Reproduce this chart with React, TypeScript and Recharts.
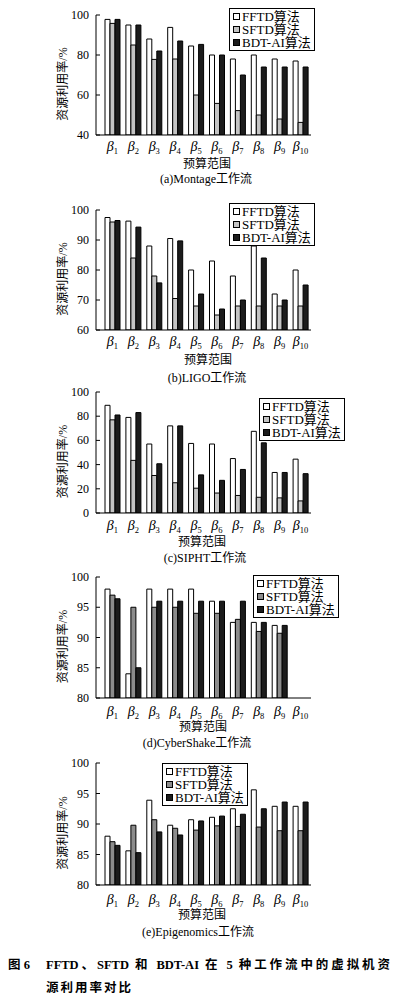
import React from "react";
import { BarChart, Bar, XAxis, YAxis, Legend } from "recharts";

const SERIF = "'Liberation Serif', 'Times New Roman', 'Noto Sans CJK SC', serif";

const budgets = ["β1", "β2", "β3", "β4", "β5", "β6", "β7", "β8", "β9", "β10"];
const seriesNames = ["FFTD算法", "SFTD算法", "BDT-AI算法"];

// (a) Montage
const montageFftd = [97.8, 95, 88, 93.8, 84.5, 80, 78, 80, 78, 77];
const montageSftd = [95.8, 85, 77.8, 78, 60, 55.8, 52.2, 50, 48, 46.3];
const montageBdt = [97.8, 95, 82, 87, 85.3, 80, 70, 74, 74, 74];
const montageTicks = [40, 60, 80, 100];

// (b) LIGO
const ligoFftd = [97.5, 96.3, 88, 90.5, 80, 83, 78, 88, 72, 80];
const ligoSftd = [96, 84, 78, 70.5, 68, 65, 68, 68, 68, 68];
const ligoBdt = [96.5, 94.3, 75.7, 89.7, 72, 67, 70, 84, 70, 75];
const ligoTicks = [60, 70, 80, 90, 100];

// (c) SIPHT
const siphtFftd = [89, 79, 57, 72, 57.5, 57, 45, 67.5, 33.5, 44.5];
const siphtSftd = [77, 43.5, 31, 25, 20.5, 16.5, 14.5, 13, 12.5, 10];
const siphtBdt = [81, 83, 40.7, 72, 31.5, 27, 36, 58, 33.5, 32.5];
const siphtTicks = [0, 20, 40, 60, 80, 100];

// (d) CyberShake, no bars for β10
const cyberFftd = [98, 84, 98, 98, 98, 96, 92.5, 92.5, 92, null];
const cyberSftd = [97, 95, 95, 95, 94, 94, 93, 91, 90.7, null];
const cyberBdt = [96.4, 85, 96, 96, 96, 96, 96, 92.5, 92, null];
const cyberTicks = [80, 85, 90, 95, 100];

// (e) Epigenomics
const epiFftd = [88, 85.6, 93.9, 89.8, 90.7, 91.1, 92.5, 95.6, 92.9, 92.9];
const epiSftd = [87.1, 89.8, 90.7, 89.3, 89, 89.7, 89.6, 89.5, 88.9, 88.9];
const epiBdt = [86.5, 85.3, 88.7, 88.2, 90.5, 91.3, 91.6, 92.5, 93.6, 93.6];
const epiTicks = [80, 85, 90, 95, 100];

const LIGHT = "#c4c4c4";
const MID = "#8c8c8c";
const DARK = "#1c1c1c";

const panels = [
  {
    caption: "(a)Montage工作流", fftd: montageFftd, sftd: montageSftd, bdt: montageBdt,
    ticks: montageTicks, gray: LIGHT, plotTop: 15, plotBottom: 135,
    betaDy: 11, labelDy: 28, capDy: 44, labelX: 207, capX: 206, legX: 229, legY: 8,
  },
  {
    caption: "(b)LIGO工作流", fftd: ligoFftd, sftd: ligoSftd, bdt: ligoBdt,
    ticks: ligoTicks, gray: LIGHT, plotTop: 210, plotBottom: 330,
    betaDy: 11, labelDy: 29, capDy: 48, labelX: 208, capX: 207, legX: 229, legY: 203,
  },
  {
    caption: "(c)SIPHT工作流", fftd: siphtFftd, sftd: siphtSftd, bdt: siphtBdt,
    ticks: siphtTicks, gray: LIGHT, plotTop: 392, plotBottom: 513,
    betaDy: 12, labelDy: 28.5, capDy: 45, labelX: 202, capX: 205, legX: 259, legY: 398,
  },
  {
    caption: "(d)CyberShake工作流", fftd: cyberFftd, sftd: cyberSftd, bdt: cyberBdt,
    ticks: cyberTicks, gray: MID, plotTop: 577, plotBottom: 698,
    betaDy: 13, labelDy: 28, capDy: 45, labelX: 203, capX: 197, legX: 253, legY: 575,
  },
  {
    caption: "(e)Epigenomics工作流", fftd: epiFftd, sftd: epiSftd, bdt: epiBdt,
    ticks: epiTicks, gray: MID, plotTop: 763, plotBottom: 885,
    betaDy: 14, labelDy: 29, capDy: 47, labelX: 202, capX: 198, legX: 162, legY: 763,
  },
];

const XTick = (props: any) => {
  const { x, y, payload, off } = props;
  const idx = String(payload.value).slice(1);
  return (
    <text x={x} y={y + off + 5} textAnchor="middle" fontFamily={SERIF} fontSize={14} fontStyle="italic" fill="#000">
      β
      <tspan fontSize={8.5} fontStyle="normal" dy={2.5}>{idx}</tspan>
    </text>
  );
};

const YTick = (props: any) => {
  const { x, y, payload } = props;
  return (
    <g>
      <line x1={x + 7} x2={x + 11} y1={y} y2={y} stroke="#000" />
      <text x={x} y={y + 4} textAnchor="end" fontFamily={SERIF} fontSize={12} fill="#000">
        {payload.value}
      </text>
    </g>
  );
};

const renderLegend = (props: any) => {
  const items = [...(props.payload || [])].sort(
    (a: any, b: any) => seriesNames.indexOf(a.value) - seriesNames.indexOf(b.value)
  );
  return (
    <div
      style={{
        border: "1px solid #000",
        background: "#fff",
        padding: "1px 3px 1px 3px",
        fontFamily: SERIF,
        fontSize: 13,
        lineHeight: "13px",
        whiteSpace: "nowrap",
      }}
    >
      {items.map((entry: any) => (
        <div key={entry.value} style={{ display: "flex", alignItems: "center" }}>
          <span
            style={{
              display: "inline-block",
              width: 5,
              height: 5,
              border: "1px solid #000",
              background: entry.color,
              marginRight: 2,
            }}
          />
          <span>{entry.value}</span>
        </div>
      ))}
    </div>
  );
};

function Panel({ p }: { p: any }) {
  const data = budgets.map((b, i) => ({ budget: b, fftd: p.fftd[i], sftd: p.sftd[i], bdt: p.bdt[i] }));
  const plotH = p.plotBottom - p.plotTop;
  const top = p.plotTop - 10;
  const domain = [p.ticks[0], p.ticks[p.ticks.length - 1]];
  return (
    <div style={{ position: "absolute", left: 0, top }}>
      <BarChart
        width={397}
        height={plotH + 70}
        data={data}
        margin={{ top: 10, right: 86, bottom: 0, left: 0 }}
        barGap={0}
      >
        <XAxis
          dataKey="budget"
          height={60}
          axisLine={{ stroke: "#000" }}
          tickLine={false}
          tickSize={0}
          tickMargin={0}
          padding={{ left: 6, right: 0 }}
          interval={0}
          tick={(tp: any) => <XTick {...tp} off={p.betaDy} />}
          label={(lp: any) => {
            const vy = lp.viewBox.y;
            return (
              <g>
                <text x={p.labelX} y={vy + p.labelDy + 4.5} textAnchor="middle" fontFamily={SERIF} fontSize={12} fill="#000">
                  预算范围
                </text>
                <text x={p.capX} y={vy + p.capDy + 4} textAnchor="middle" fontFamily={SERIF} fontSize={12} fill="#000">
                  {p.caption}
                </text>
              </g>
            );
          }}
        />
        <YAxis
          type="number"
          width={96}
          domain={domain}
          ticks={p.ticks}
          allowDataOverflow
          axisLine={{ stroke: "#000" }}
          tickLine={false}
          tickSize={0}
          tickMargin={7}
          interval={0}
          tick={(tp: any) => <YTick {...tp} />}
          label={(lp: any) => {
            const cy = lp.viewBox.y + lp.viewBox.height / 2 + 9;
            return (
              <text
                x={63}
                y={cy}
                transform={`rotate(-90, 63, ${cy})`}
                textAnchor="middle"
                dominantBaseline="central"
                fontFamily={SERIF}
                fontSize={12}
                fill="#000"
              >
                资源利用率/%
              </text>
            );
          }}
        />
        <Legend
          layout="vertical"
          align="center"
          verticalAlign="middle"
          content={renderLegend}
          wrapperStyle={{ left: p.legX, top: p.legY - top, width: "auto", height: "auto" }}
        />
        <Bar dataKey="fftd" name={seriesNames[0]} fill="#ffffff" stroke="#000" strokeWidth={1} barSize={5} isAnimationActive={false} />
        <Bar dataKey="sftd" name={seriesNames[1]} fill={p.gray} stroke="#000" strokeWidth={1} barSize={5} isAnimationActive={false} />
        <Bar dataKey="bdt" name={seriesNames[2]} fill={DARK} stroke="#000" strokeWidth={1} barSize={5} isAnimationActive={false} />
      </BarChart>
    </div>
  );
}

export default function App() {
  return (
    <div style={{ position: "absolute", left: 0, top: 0, width: 397, height: 1005, background: "#fff" }}>
      {panels.map((p) => (
        <Panel key={p.caption} p={p} />
      ))}
      <div
        style={{
          position: "absolute",
          left: 8,
          top: 957,
          fontFamily: SERIF,
          fontWeight: "bold",
          fontSize: 12.5,
          lineHeight: "16px",
        }}
      >
        图 6
      </div>
      <div
        style={{
          position: "absolute",
          left: 46,
          top: 957,
          width: 344,
          fontFamily: SERIF,
          fontWeight: "bold",
          fontSize: 12.5,
          lineHeight: "16px",
          textAlign: "justify",
          textAlignLast: "justify",
          whiteSpace: "nowrap",
        }}
      >
        FFTD、SFTD 和 BDT-AI 在 5 种工作流中的虚拟机资
      </div>
      <div
        style={{
          position: "absolute",
          left: 46,
          top: 980,
          fontFamily: SERIF,
          fontWeight: "bold",
          fontSize: 12.5,
          lineHeight: "16px",
          letterSpacing: 2,
        }}
      >
        源利用率对比
      </div>
    </div>
  );
}
